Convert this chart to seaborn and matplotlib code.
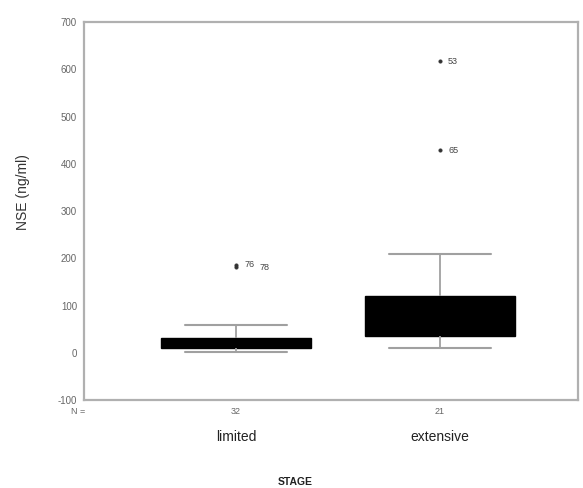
import numpy as np
import pandas as pd
import matplotlib
matplotlib.use("Agg")
import matplotlib.pyplot as plt
import matplotlib.transforms as mtransforms
import seaborn as sns

# categories and counts
stage = ["limited", "extensive"]
n_counts = [32, 21]

# five-number summaries: low whisker, Q1, median, Q3, high whisker
limited_summary = [2, 10, 18, 31, 59]
extensive_summary = [10, 35, 70, 120, 209]

# outlying cases (value, case label)
limited_outliers = [186, 181]
limited_outlier_ids = ["76", "78"]
extensive_outliers = [617, 429]
extensive_outlier_ids = ["53", "65"]

y_ticks = [-100, 0, 100, 200, 300, 400, 500, 600, 700]

sns.set_style("white")
plt.rcParams['font.family'] = ['Liberation Sans', 'DejaVu Sans']

df = pd.DataFrame({
    "STAGE": [stage[0]] * len(limited_summary) + [stage[1]] * len(extensive_summary),
    "NSE": limited_summary + extensive_summary,
})
out = pd.DataFrame({
    "STAGE": [stage[0]] * len(limited_outliers) + [stage[1]] * len(extensive_outliers),
    "NSE": limited_outliers + extensive_outliers,
    "case": limited_outlier_ids + extensive_outlier_ids,
})

fig = plt.figure(figsize=(5.83, 4.88), dpi=100)
ax = fig.add_axes([0.144, 0.18, 0.847, 0.775])

grey = '#a0a0a0'
sns.boxplot(data=df, x="STAGE", y="NSE", order=stage, whis=(0, 100), width=0.735,
            color='black', linecolor='black', linewidth=1.0, fliersize=0, ax=ax,
            boxprops=dict(facecolor='black', edgecolor='black'),
            whiskerprops=dict(color=grey, linewidth=1.3),
            capprops=dict(color=grey, linewidth=1.5),
            medianprops=dict(color='black'))

# make the caps narrower than the boxes
cap_half = 0.25
for line in ax.lines:
    xd = np.asarray(line.get_xdata(), dtype=float)
    yd = np.asarray(line.get_ydata(), dtype=float)
    if len(xd) == 2 and yd[0] == yd[1] and line.get_color() == grey:
        c = xd.mean()
        line.set_xdata([c - cap_half, c + cap_half])

sns.scatterplot(data=out, x="STAGE", y="NSE", ax=ax, marker='o', s=7,
                color='#333333', edgecolor='#333333', legend=False, zorder=5)
pos = {s: i for i, s in enumerate(stage)}
seen = {}
for _, r in out.iterrows():
    k = seen.get(r["STAGE"], 0)
    seen[r["STAGE"]] = k + 1
    # second label of a crowded group shifts right so the two stay readable
    dx = 0.04 + (0.075 * k if r["STAGE"] == stage[0] else 0)
    ax.text(pos[r["STAGE"]] + dx, r["NSE"], r["case"], fontsize=6.5,
            color='#444444', va='center', ha='left')

ax.set_xlim(-0.745, 1.676)
ax.set_ylim(-100, 700)
ax.set_yticks(y_ticks)
ax.set_yticklabels([str(t) for t in y_ticks], fontsize=7, color='#666666')
ax.set_xticks(range(len(stage)))
ax.set_xticklabels([str(n) for n in n_counts], fontsize=6.5, color='#666666')
ax.tick_params(axis='both', direction='out', length=2, width=0.8, colors=grey,
               labelcolor='#666666', pad=3)

for sp in ax.spines.values():
    sp.set_color('#b0b0b0')
    sp.set_linewidth(1.6)

ax.set_xlabel("")
ax.set_ylabel("NSE (ng/ml)", fontsize=10, color='#333333', labelpad=14)
ax.yaxis.set_label_coords(-0.11, 0.55)

trans = mtransforms.blended_transform_factory(ax.transData, fig.transFigure)
for i, s in enumerate(stage):
    ax.text(i, 1 - 437 / 488, s, transform=trans, ha='center', va='center',
            fontsize=10, color='#222222')
fig.text(78 / 583, 1 - 412 / 488, "N =", fontsize=6.5, color='#666666',
         ha='center', va='center')
fig.text(295 / 583, 1 - 482 / 488, "STAGE", fontsize=7.5, fontweight='bold',
         color='#222222', ha='center', va='center')

fig.savefig("out.png", dpi=100)
